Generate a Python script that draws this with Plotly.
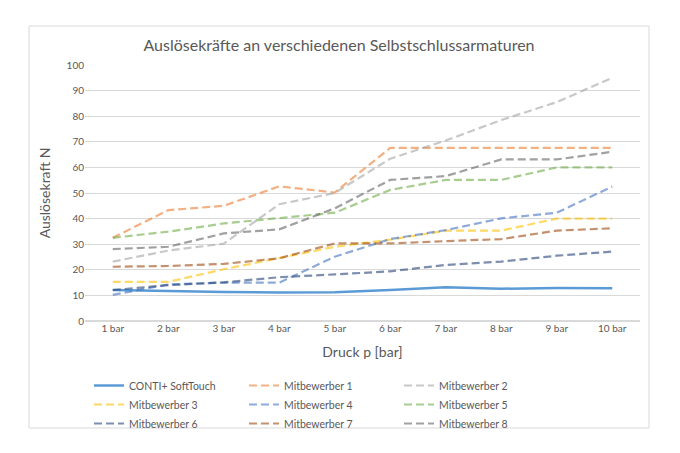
import plotly.graph_objects as go

categories = ["1 bar", "2 bar", "3 bar", "4 bar", "5 bar", "6 bar", "7 bar", "8 bar", "9 bar", "10 bar"]

conti = [12.1, 11.6, 11.3, 11.1, 11.2, 12.1, 13.2, 12.6, 12.9, 12.8]
mb1 = [32.5, 43.3, 45.0, 52.6, 50.2, 67.6, 67.6, 67.6, 67.6, 67.6]
mb2 = [23.2, 27.5, 30.2, 45.6, 50.0, 63.4, 70.5, 78.5, 85.5, 95.0]
mb3 = [15.3, 15.3, 20.2, 24.5, 29.0, 31.8, 35.3, 35.3, 40.0, 40.0]
mb4 = [10.2, 14.3, 15.0, 15.0, 25.1, 32.0, 35.5, 40.1, 42.3, 52.5]
mb5 = [32.5, 34.9, 38.1, 40.1, 42.3, 51.2, 55.1, 55.1, 60.0, 60.0]
mb6 = [12.1, 14.0, 15.1, 17.1, 18.2, 19.4, 21.9, 23.2, 25.5, 27.1]
mb7 = [21.2, 21.5, 22.3, 24.5, 30.3, 30.3, 31.2, 32.0, 35.3, 36.2]
mb8 = [28.1, 29.0, 34.2, 35.8, 44.0, 55.1, 56.6, 63.1, 63.1, 66.1]

names = ["CONTI+ SoftTouch", "Mitbewerber 1", "Mitbewerber 2", "Mitbewerber 3", "Mitbewerber 4",
         "Mitbewerber 5", "Mitbewerber 6", "Mitbewerber 7", "Mitbewerber 8"]
series = [conti, mb1, mb2, mb3, mb4, mb5, mb6, mb7, mb8]
colors = ["#5B9BD5", "#ED7D31", "#A5A5A5", "#FFC000", "#4472C4",
          "#70AD47", "#264478", "#9E480E", "#636363"]

fig = go.Figure()
for i, (n, s, c) in enumerate(zip(names, series, colors)):
    fig.add_trace(go.Scatter(
        x=categories, y=s, name=n, mode="lines",
        line=dict(color=c, width=2.5 if i == 0 else 2.2, dash="solid" if i == 0 else "8px,4px"),
        opacity=1.0 if i == 0 else 0.6,
    ))

W, H = 680, 453
l, r, t, b = 85, 40, 65, 132
pw, ph = W - l - r, H - t - b

def px_x(x):
    return (x - l) / pw

def px_y(y):
    return (H - b - y) / ph

fig.add_shape(type="rect", xref="paper", yref="paper",
              x0=px_x(29), x1=px_x(649), y0=px_y(428), y1=px_y(26),
              line=dict(color="#D9D9D9", width=1), fillcolor="rgba(0,0,0,0)", layer="below")

fig.update_layout(
    width=W, height=H,
    margin=dict(l=l, r=r, t=t, b=b, autoexpand=False),
    paper_bgcolor="white", plot_bgcolor="white",
    font=dict(family="Lato, Open Sans, sans-serif", color="#595959"),
    title=dict(text="Auslösekräfte an verschiedenen Selbstschlussarmaturen",
               x=339 / W, xref="container", xanchor="center", y=1 - 45 / H, yanchor="middle",
               font=dict(size=16, color="#595959")),
    xaxis=dict(
        type="category", range=[-0.5, 9.5], showgrid=False, showline=False, zeroline=False,
        ticks="", tickfont=dict(size=10, color="#595959"),
        title=dict(text="Druck p [bar]", font=dict(size=14, color="#595959"), standoff=14),
    ),
    yaxis=dict(
        range=[0, 100], dtick=10, showgrid=True, gridcolor="#D9D9D9", gridwidth=1,
        zeroline=True, zerolinecolor="#D9D9D9", showline=False, ticks="",
        tickfont=dict(size=10, color="#595959"),
        title=dict(text="Auslösekraft N", font=dict(size=14, color="#595959"), standoff=12),
    ),
    showlegend=True,
    legend=dict(
        orientation="h", x=89 / W, xref="container", xanchor="left",
        y=1 - 371 / H, yref="container", yanchor="top",
        entrywidth=110, entrywidthmode="pixels",
        font=dict(size=10.5, color="#595959"), tracegroupgap=0, itemwidth=30,
        bgcolor="rgba(0,0,0,0)",
    ),
)

fig.write_html("out.html")
